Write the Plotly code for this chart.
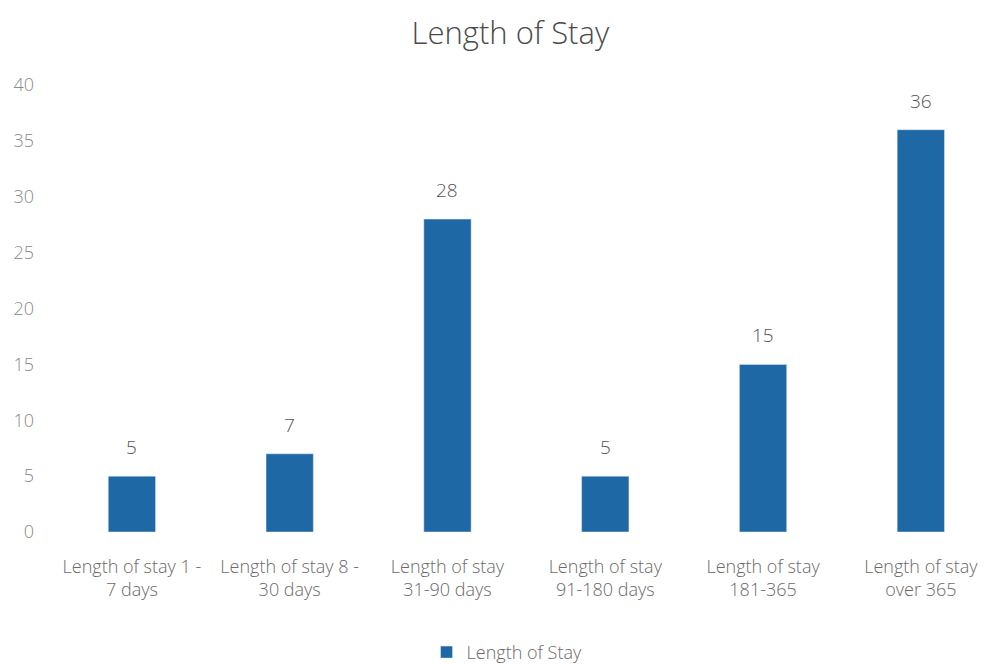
import plotly.graph_objects as go

categories = ["Length of stay 1 -<br>7 days", "Length of stay 8 -<br>30 days",
              "Length of stay<br>31-90 days", "Length of stay<br>91-180 days",
              "Length of stay<br>181-365", "Length of stay<br>over 365"]
values = [5, 7, 28, 5, 15, 36]
series_name = "Length of Stay"
y_ticks = [0, 5, 10, 15, 20, 25, 30, 35, 40]

FONT = "Open Sans"
GREY = "#6a6a6a"
BLUE = "#1E68A6"

fig = go.Figure()
fig.add_trace(go.Bar(
    x=list(range(len(categories))), y=values, name=series_name,
    marker=dict(color=BLUE), width=0.3, showlegend=True,
))

for i, v in enumerate(values):
    fig.add_annotation(x=i, y=v, text=str(v), showarrow=False, yanchor="bottom",
                       yshift=14, font=dict(family=FONT, size=19, color="#555555", weight=300))

fig.update_layout(
    width=987, height=664,
    paper_bgcolor="white", plot_bgcolor="white",
    margin=dict(l=45, r=0, t=77, b=140),
    title=dict(text="Length of Stay", x=0.509, xanchor="center", y=0.962, yanchor="middle",
               font=dict(family=FONT, size=31, color="#4a4a4a", weight=300)),
    font=dict(family=FONT, color=GREY),
    xaxis=dict(range=[-0.5, 5.47], tickmode="array", tickvals=list(range(len(categories))),
               ticktext=categories, showgrid=False, showline=False, zeroline=False,
               ticks="", automargin=False, ticklabelstandoff=22,
               tickfont=dict(family=FONT, size=18, color=GREY, weight=300)),
    yaxis=dict(range=[0, 40], tickmode="array", tickvals=y_ticks, showgrid=False,
               showline=False, zeroline=False, ticks="", ticklabelstandoff=18, automargin=False,
               tickfont=dict(family=FONT, size=18, color="#8a8a8a", weight=300)),
    legend=dict(orientation="h", x=0.482, xanchor="center", y=-0.228, yanchor="top",
                font=dict(family=FONT, size=18, color=GREY, weight=300), itemwidth=30),
    bargap=0.7,
)

fig.write_html("out.html")
